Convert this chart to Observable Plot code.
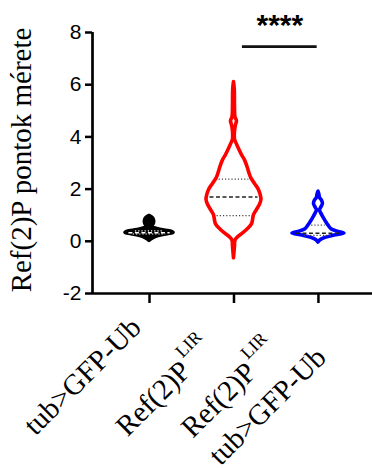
<!DOCTYPE html>
<html><head><meta charset="utf-8">
<script src="https://cdn.jsdelivr.net/npm/d3@7"></script>
<script src="https://cdn.jsdelivr.net/npm/@observablehq/plot@0.6"></script>
<style>body{margin:0;background:#fff} svg{display:block} #dbg{position:absolute;left:360px;top:455px;font:1px monospace;color:#fff;width:10px;height:10px;overflow:hidden}</style>
</head><body><div id="chart"></div><div id="dbg"></div>
<script>
// ---- data ----
const groupNames = ["tub>GFP-Ub", "Ref(2)P", "Ref(2)P\ntub>GFP-Ub"];
const groupSup = ["", "LIR", "LIR"];
const groupPos = [1, 2, 3];
const groupColors = ["#000000", "#ff0000", "#0000ff"];
const yTicks = [-2, 0, 2, 4, 6, 8];
const yTitle = "Ref(2)P pontok mérete";

// violin outlines: value levels and density (half-width, px-like units)
const blackY = [0.02, 0.1, 0.2, 0.27, 0.32, 0.37, 0.43, 0.5, 0.56, 0.62, 0.7, 0.8, 0.9, 0.97];
const blackD = [0, 3, 9, 18, 24, 22, 12, 5, 2.5, 3.5, 4.5, 4.5, 3, 0];
const redY = [-0.65, -0.2, 0.03, 0.15, 0.3, 0.45, 0.65, 0.8, 1.0, 1.2, 1.4, 1.6, 1.8, 2.0, 2.2, 2.4, 2.6, 2.85, 3.1, 3.3, 3.5, 3.75, 3.9, 4.2, 4.45, 4.6, 4.75, 5.2, 5.8, 6.1];
const redD = [0, 1, 1.5, 4, 9, 13.5, 18, 19, 20, 23, 26, 27.5, 26.5, 24.5, 21, 17.5, 15.5, 13.5, 11, 8, 5.5, 2.5, 1, 1, 2, 3, 1.5, 1, 0.8, 0];
const blueY = [-0.05, 0.04, 0.13, 0.22, 0.3, 0.37, 0.46, 0.58, 0.72, 0.88, 1.05, 1.19, 1.3, 1.44, 1.56, 1.66, 1.78, 1.9];
const blueD = [0, 2, 7, 16, 26, 19, 13, 10.5, 8, 5.5, 3, 1.5, 3, 4.5, 3.5, 1.5, 1, 0];

const medians = [0.33, 1.70, 0.31];
const quart1 = [0.28, 0.98, 0.23];
const quart3 = [0.40, 2.38, 0.62];

const sigX1 = [2.1], sigX2 = [2.985], sigY = [7.46], sigText = ["****"];

// ---- layout ----
const W = 372, H = 468, mL = 92, mR = 0, mT = 32, mB = 175;
const xDomain = [0.325, 3.64];
const pxPerUnit = (W - mL - mR) / (xDomain[1] - xDomain[0]);

const profiles = [[blackY, blackD], [redY, redD], [blueY, blueD]];
const violinFill = ["#000000", "white", "white"];
const lineColor = [["#ffffff", "#ffffff"], ["#444", "#222"], ["#444", "#222"]];
function widthAt(Y, D, v) {
  for (let i = 0; i < Y.length - 1; i++) {
    if (v >= Y[i] && v <= Y[i + 1]) {
      const t = (v - Y[i]) / (Y[i + 1] - Y[i]);
      return D[i] + t * (D[i + 1] - D[i]);
    }
  }
  return 0;
}

const marks = [];
profiles.forEach(([Y, D], g) => {
  const rows = Y.map((v, i) => ({y: v, w: D[i] / pxPerUnit, pos: groupPos[g]}));
  marks.push(Plot.areaX(rows, {
    y: "y", x1: d => d.pos - d.w, x2: d => d.pos + d.w,
    fill: violinFill[g], stroke: groupColors[g], strokeWidth: 3.6,
    strokeLinejoin: "round", curve: "catmull-rom"
  }));
  const q = [
    {y: quart1[g], dash: "1.2,2", sw: 1.2, c: lineColor[g][0]},
    {y: medians[g], dash: "4,2.5", sw: 1.4, c: lineColor[g][1]},
    {y: quart3[g], dash: "1.2,2", sw: 1.2, c: lineColor[g][0]}
  ];
  q.forEach(r => {
    const w = Math.max(0, widthAt(Y, D, r.y) - 3) / pxPerUnit;
    marks.push(Plot.ruleY([r], {
      y: "y", x1: groupPos[g] - w, x2: groupPos[g] + w,
      stroke: r.c, strokeWidth: r.sw, strokeDasharray: r.dash
    }));
  });
});

// axes
marks.push(Plot.ruleX([xDomain[0]], {x: d => d, y1: yTicks[0], y2: yTicks[yTicks.length - 1], strokeWidth: 2.7, stroke: "black"}));
marks.push(Plot.ruleY([yTicks[0]], {y: d => d, strokeWidth: 2.7, stroke: "black"}));
marks.push(Plot.axisY({ticks: yTicks, tickSize: 7, tickPadding: 4, tickFormat: d => String(d),
  fontSize: 21, fontFamily: "Liberation Sans, Arial, sans-serif", strokeWidth: 2.5, label: null, color: "black"}));
marks.push(Plot.axisX({ticks: groupPos, tickSize: 10, tickFormat: () => "", strokeWidth: 2.5, label: null, color: "black"}));

// y title
marks.push(Plot.text([yTitle], {text: d => d, frameAnchor: "left", dx: -62, dy: -3, rotate: -90,
  lineAnchor: "bottom", textAnchor: "middle", fontSize: 29, fontFamily: "Liberation Serif, Times New Roman, serif", fill: "black"}));

// x category labels (rotated) and their superscripts
const labelDx = [-114, -106.5, -98], labelDy = [143, 144, 173];
const supDx = [0, -51.5, -70.6], supDy = [0, 65, 66.4];
groupNames.forEach((name, i) => {
  marks.push(Plot.text([groupPos[i]], {x: d => d, y: () => yTicks[0], text: () => name,
    dx: labelDx[i], dy: labelDy[i], rotate: -45, textAnchor: "start", lineAnchor: "bottom",
    lineHeight: 1.345, fontSize: 29, fontFamily: "Liberation Serif, Times New Roman, serif", fill: "black"}));
  if (groupSup[i]) {
    marks.push(Plot.text([groupPos[i]], {x: d => d, y: () => yTicks[0], text: () => groupSup[i],
      dx: supDx[i], dy: supDy[i], rotate: -45, textAnchor: "start", lineAnchor: "bottom",
      fontSize: 18, fontFamily: "Liberation Serif, Times New Roman, serif", fill: "black"}));
  }
});

// significance bar
const sig = sigX1.map((x1, i) => ({x1, x2: sigX2[i], y: sigY[i], label: sigText[i]}));
marks.push(Plot.ruleY(sig, {y: "y", x1: "x1", x2: "x2", strokeWidth: 2.6, stroke: "#111"}));
marks.push(Plot.text(sig, {x: d => (d.x1 + d.x2) / 2, y: "y", text: "label", dy: -12, lineAnchor: "bottom",
  fontSize: 30, fontWeight: "bold", fontFamily: "Liberation Sans, Arial, sans-serif", fill: "black"}));

const chart = Plot.plot({
  width: W, height: H, marginLeft: mL, marginRight: mR, marginTop: mT, marginBottom: mB,
  x: {type: "linear", domain: xDomain, axis: null},
  y: {domain: [yTicks[0], yTicks[yTicks.length - 1]], axis: null},
  marks
});

let info = "";
chart.querySelectorAll("text").forEach(t => { info += (t.getAttribute("transform") || "") + " "; });
document.getElementById("chart").appendChild(chart);
document.getElementById("dbg").textContent = info;
</script>
</body></html>
